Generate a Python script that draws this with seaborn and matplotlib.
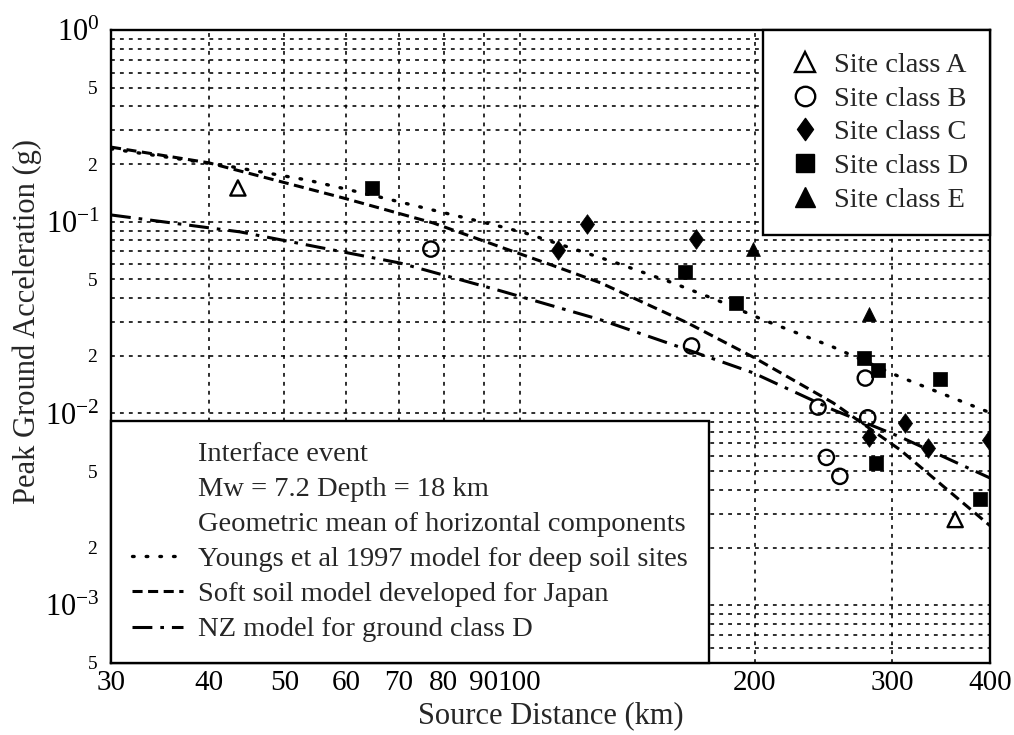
import numpy as np
import pandas as pd
import matplotlib
matplotlib.use("Agg")
import matplotlib.pyplot as plt
import seaborn as sns
from matplotlib.lines import Line2D
from matplotlib.path import Path
from matplotlib.ticker import NullLocator

# ---------------- data ----------------
class_a_dist = [43.6, 361]
class_a_pga = [0.150, 0.0028]

class_b_dist = [77, 166, 241, 247, 257, 277, 279]
class_b_pga = [0.072, 0.0225, 0.0108, 0.0059, 0.0047, 0.0153, 0.0095]

class_c_dist = [112, 122, 168, 280, 311, 333, 399]
class_c_pga = [0.071, 0.097, 0.081, 0.0075, 0.0089, 0.0066, 0.0073]

class_d_dist = [64.8, 163, 189, 276, 288, 286, 345, 388]
class_d_pga = [0.150, 0.0547, 0.0377, 0.0195, 0.0169, 0.0055, 0.0152, 0.0036]

class_e_dist = [199, 280]
class_e_pga = [0.072, 0.033]

youngs_dist = [30, 43, 53.5, 66, 77.5, 94, 102, 133, 157, 179, 205, 252, 307, 400]
youngs_pga = [0.24, 0.193, 0.165, 0.135, 0.115, 0.095, 0.087, 0.061, 0.048, 0.039,
              0.0308, 0.0222, 0.0155, 0.0101]

japan_dist = [30, 40, 59.5, 77.5, 94.4, 108, 127, 164, 199, 252, 307, 400]
japan_pga = [0.245, 0.203, 0.133, 0.0986, 0.074, 0.061, 0.048, 0.0297, 0.0197,
             0.01136, 0.00646, 0.0026]

nz_dist = [30, 43.9, 70.3, 94.4, 127, 164, 199, 252, 307, 400]
nz_pga = [0.1085, 0.0885, 0.0609, 0.0437, 0.0308, 0.0215, 0.0163, 0.01045,
          0.00755, 0.00461]

x_ticks = [30, 40, 50, 60, 70, 80, 90, 100, 200, 300, 400]
x_tick_labels = ["30", "40", "50", "60", "70", "80", "90", "100", "200", "300", "400"]
y_major = [1e0, 1e-1, 1e-2, 1e-3]
y_major_labels = [r"$\mathregular{10^{0}}$", r"$\mathregular{10^{-1}}$",
                  r"$\mathregular{10^{-2}}$", r"$\mathregular{10^{-3}}$"]

site_labels = ["Site class A", "Site class B", "Site class C", "Site class D", "Site class E"]
box_lines = ["Interface event", "Mw = 7.2 Depth = 18 km",
             "Geometric mean of horizontal components"]
model_labels = ["Youngs et al 1997 model for deep soil sites",
                "Soft soil model developed for Japan",
                "NZ model for ground class D"]

# ---------------- style ----------------
sns.set_style("white")
plt.rcParams["font.family"] = ["Liberation Serif", "DejaVu Serif"]
plt.rcParams["mathtext.fontset"] = "custom"
plt.rcParams["mathtext.rm"] = "Liberation Serif"
plt.rcParams["mathtext.it"] = "Liberation Serif:italic"
plt.rcParams["mathtext.bf"] = "Liberation Serif:bold"

FS = 20.5
dot_style = (0, (0.5, 3.6))
dash_style = (0, (3.3, 1.8))
dashdot_style = (0, (6.5, 2.6, 1.2, 2.6))

fig = plt.figure(figsize=(10.14, 7.35), dpi=100)
ax = fig.add_axes([0.1095, 0.098, 0.8668, 0.8612])
ax.set_xscale("log")
ax.set_yscale("log")
ax.set_xlim(30, 400)
ax.set_ylim(5e-4, 1.0)

# narrow diamond marker
diamond = Path([(0, 1), (0.72, 0), (0, -1), (-0.72, 0), (0, 1)],
               [Path.MOVETO, Path.LINETO, Path.LINETO, Path.LINETO, Path.CLOSEPOLY])

# ---------------- model curves ----------------
sns.lineplot(x=youngs_dist, y=youngs_pga, ax=ax, color="black", lw=2.4,
             linestyle=dot_style, dash_capstyle="round", sort=False, zorder=2)
sns.lineplot(x=japan_dist, y=japan_pga, ax=ax, color="black", lw=2.2,
             linestyle=dash_style, sort=False, zorder=2)
sns.lineplot(x=nz_dist, y=nz_pga, ax=ax, color="black", lw=2.2,
             linestyle=dashdot_style, sort=False, zorder=2)

# ---------------- data points ----------------
sns.scatterplot(x=class_a_dist, y=class_a_pga, ax=ax, marker="^", s=120,
                facecolor="none", edgecolor="black", linewidth=1.7, zorder=3)
sns.scatterplot(x=class_b_dist, y=class_b_pga, ax=ax, marker="o", s=120,
                facecolor="none", edgecolor="black", linewidth=1.7, zorder=3)
sns.scatterplot(x=class_c_dist, y=class_c_pga, ax=ax, marker=diamond, s=200,
                color="black", edgecolor="black", linewidth=0.5, zorder=3)
sns.scatterplot(x=class_d_dist, y=class_d_pga, ax=ax, marker="s", s=110,
                color="black", edgecolor="black", linewidth=0.5, zorder=3)
sns.scatterplot(x=class_e_dist, y=class_e_pga, ax=ax, marker="^", s=100,
                color="black", edgecolor="black", linewidth=0.5, zorder=3)

# ---------------- ticks & grid ----------------
ax.set_xticks(x_ticks)
ax.set_xticklabels(x_tick_labels)
ax.xaxis.set_minor_locator(NullLocator())

ax.set_yticks(y_major)
ax.set_yticklabels(y_major_labels)
minor_y = []
minor_y_labels = []
for dec in [1e-1, 1e-2, 1e-3, 1e-4]:
    for m in range(2, 10):
        v = m * dec
        if 5e-4 <= v < 1.0:
            minor_y.append(v)
            minor_y_labels.append(str(m) if m in (2, 5) else "")
ax.set_yticks(minor_y, minor=True)
ax.set_yticklabels(minor_y_labels, minor=True)

ax.tick_params(axis="both", which="both", length=0, colors="black")
ax.tick_params(axis="x", which="major", labelsize=FS + 0.5, pad=5)
ax.tick_params(axis="y", which="major", labelsize=FS + 1.5, pad=8)
ax.tick_params(axis="y", which="minor", labelsize=14, pad=10)

ax.grid(True, which="both", color="black", linestyle=(0, (2.4, 3.2)), linewidth=1.15)
ax.set_axisbelow(True)

for sp in ax.spines.values():
    sp.set_color("black")
    sp.set_linewidth(1.7)

ax.set_xlabel("Source Distance (km)", fontsize=FS + 1.5)
ax.set_ylabel("Peak Ground Acceleration (g)", fontsize=FS + 1.5)
ax.xaxis.set_label_coords(0.5, -0.06)
ax.yaxis.set_label_coords(-0.079, 0.54)

# ---------------- legends ----------------
site_handles = [
    Line2D([], [], ls="none", marker="^", ms=14, mfc="white", mec="black", mew=1.7),
    Line2D([], [], ls="none", marker="o", ms=14, mfc="white", mec="black", mew=1.7),
    Line2D([], [], ls="none", marker=diamond, ms=16, mfc="black", mec="black"),
    Line2D([], [], ls="none", marker="s", ms=13.5, mfc="black", mec="black"),
    Line2D([], [], ls="none", marker="^", ms=14, mfc="black", mec="black"),
]
leg1 = ax.legend(site_handles, site_labels, loc="upper right", bbox_to_anchor=(1.0, 1.0),
                 borderaxespad=0, fontsize=FS, frameon=True, fancybox=False,
                 framealpha=1, facecolor="white", edgecolor="black",
                 borderpad=0.78, handlelength=1.4, handletextpad=0.3,
                 labelspacing=0.27)
leg1.get_frame().set_linewidth(1.7)
ax.add_artist(leg1)

blank = Line2D([], [], ls="none", marker=None, color="none")
model_handles = [blank, blank, blank,
                 Line2D([], [], color="black", lw=2.4, linestyle=dot_style,
                        dash_capstyle="round"),
                 Line2D([], [], color="black", lw=2.2, linestyle=dash_style),
                 Line2D([], [], color="black", lw=2.2, linestyle=dashdot_style)]
leg2 = ax.legend(model_handles, box_lines + model_labels, loc="lower left",
                 bbox_to_anchor=(0.0, 0.0), borderaxespad=0, fontsize=FS,
                 frameon=True, fancybox=False, framealpha=1, facecolor="white",
                 edgecolor="black", borderpad=0.72, handlelength=1.8,
                 handletextpad=0.55, labelspacing=0.32)
leg2.get_frame().set_linewidth(1.7)

fig.savefig("out.png", dpi=100)
